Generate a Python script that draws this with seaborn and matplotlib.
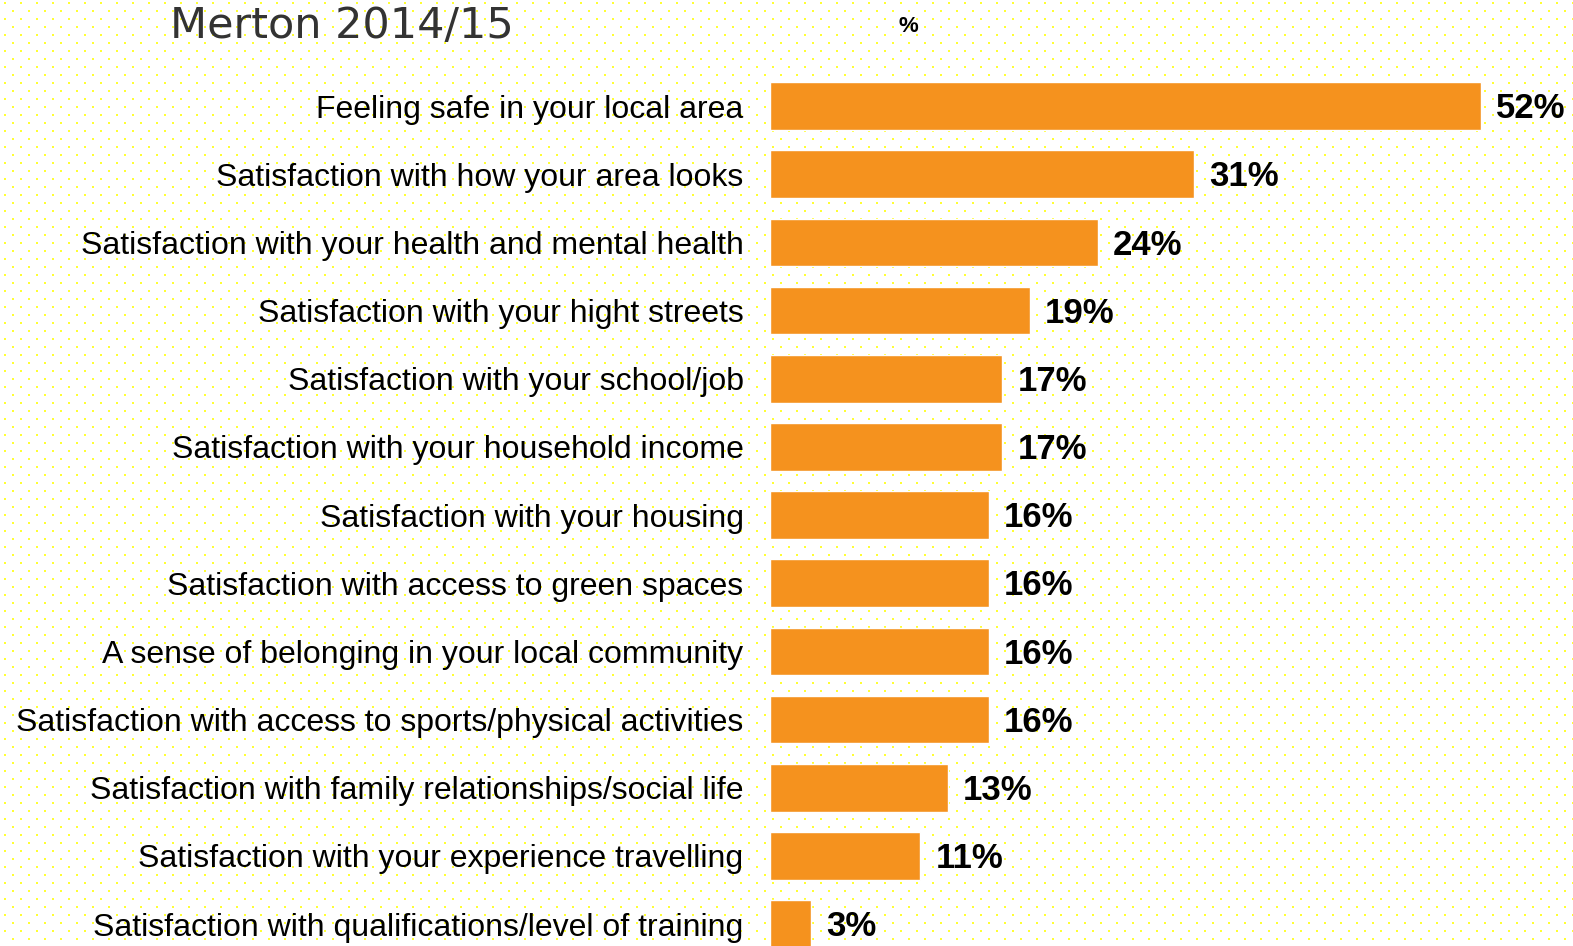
import numpy as np
import pandas as pd
import seaborn as sns
import matplotlib.pyplot as plt

# chart data
categories = [
    "Feeling safe in your local area",
    "Satisfaction with how your area looks",
    "Satisfaction with your health and mental health",
    "Satisfaction with your hight streets",
    "Satisfaction with your school/job",
    "Satisfaction with your household income",
    "Satisfaction with your housing",
    "Satisfaction with access to green spaces",
    "A sense of belonging in your local community",
    "Satisfaction with access to sports/physical activities",
    "Satisfaction with family relationships/social life",
    "Satisfaction with your experience travelling",
    "Satisfaction with qualifications/level of training",
]
values = [52, 31, 24, 19, 17, 17, 16, 16, 16, 16, 13, 11, 3]

df = pd.DataFrame({"item": categories, "pct": values})

sns.set_style("white")
plt.rcParams["font.family"] = ["Liberation Sans", "DejaVu Sans"]

W, H = 1573, 946
fig = plt.figure(figsize=(W / 100, H / 100), dpi=100)
fig.patch.set_facecolor("white")

# dotted yellow backdrop
bg = np.ones((H, W, 3))
for y in range(2, H, 8):
    off = 4 if (y // 8) % 2 == 0 else 12
    for x in range(off, W, 16):
        bg[y:y + 2, x:x + 2] = [1.0, 1.0, 0.2]
fig.figimage(bg, xo=0, yo=0, origin="upper", zorder=-5)

# axes placed so the bars line up with the reference
ax_left = 770 / W
ax_top = 72 / H
ax = fig.add_axes([ax_left, 0, 1 - ax_left, 1 - ax_top])
ax.set_facecolor("none")

sns.barplot(data=df, x="pct", y="item", orient="h", color="#F5921E",
            saturation=1, width=0.70, ax=ax)

step = 68.17
ax.set_ylim(12 + (946 - 924) / step, -0.5)
ax.set_xlim(0, (W - 770) / (711 / 52))

for i, v in enumerate(values):
    ax.text(v + 1.1, i + 0.04, f"{v}%", va="center", ha="left",
            fontsize=25, fontweight="bold", color="black")

ax.set_xlabel("")
ax.set_ylabel("")
ax.set_xticks([])
ax.tick_params(axis="y", length=0, pad=19, labelsize=23)
for lab in ax.get_yticklabels():
    lab.set_color("black")
sns.despine(ax=ax, left=True, bottom=True)

fig.text(170 / W, 1 - 26 / H, "Merton 2014/15", fontsize=31, color="#333333",
         family=["DejaVu Sans"], va="center", ha="left")
fig.text(908 / W, 1 - 26 / H, "%", fontsize=16, fontweight="bold",
         color="black", va="center", ha="center")

fig.savefig("out.png", dpi=100)
